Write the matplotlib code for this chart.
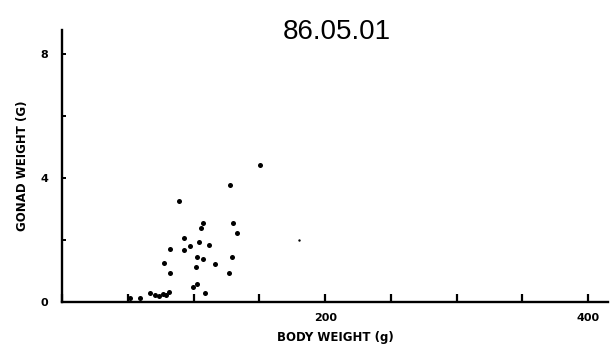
import matplotlib
matplotlib.use("Agg")
import matplotlib.pyplot as plt

# Data (body weight g, gonad weight g)
body_weight = [150.6, 127.8, 89.2, 107.5, 106.0, 130.0, 132.8, 92.8, 104.4, 111.8,
               97.1, 82.4, 92.8, 102.7, 107.0, 129.0, 77.3, 116.0, 101.7, 81.9,
               127.0, 102.9, 99.8, 108.5,
               59.0, 67.0, 70.5, 73.5, 76.5, 79.0, 81.0, 52.0]
gonad_weight = [4.42, 3.76, 3.26, 2.53, 2.37, 2.54, 2.22, 2.05, 1.93, 1.82,
                1.81, 1.71, 1.67, 1.45, 1.38, 1.45, 1.24, 1.22, 1.11, 0.93,
                0.94, 0.56, 0.48, 0.27,
                0.12, 0.28, 0.22, 0.18, 0.25, 0.22, 0.30, 0.12]
faint_x = [179.8]
faint_y = [1.99]

x_ticks = [0, 50, 100, 150, 200, 250, 300, 350, 400]
x_labels = ["", "", "", "", "200", "", "", "", "400"]
y_ticks = [0, 2, 4, 6, 8]
y_labels = ["0", "", "4", "", "8"]

fig = plt.figure(figsize=(6.12, 3.54), dpi=100)
ax = fig.add_axes([0.1013, 0.1477, 0.8922, 0.7676])
ax.set_xlim(0, 415)
ax.set_ylim(0, 8.76)

ax.scatter(body_weight, gonad_weight, s=13, color="black", linewidths=0, zorder=3)
ax.scatter(faint_x, faint_y, s=3, color="black", linewidths=0, zorder=3)

for s in ["top", "right"]:
    ax.spines[s].set_visible(False)
for s in ["left", "bottom"]:
    ax.spines[s].set_linewidth(1.7)
    ax.spines[s].set_color("black")

ax.set_xticks(x_ticks)
ax.set_xticklabels(x_labels, fontsize=8, fontweight="bold")
ax.set_yticks(y_ticks)
ax.set_yticklabels(y_labels, fontsize=8, fontweight="bold")
ax.tick_params(axis="x", direction="in", length=6, width=1.6, pad=8)
ax.tick_params(axis="y", direction="in", length=3, width=1.4, pad=10)

ax.set_xlabel("BODY WEIGHT (g)", fontsize=8.5, fontweight="bold", labelpad=6)
ax.set_ylabel("GONAD WEIGHT (G)", fontsize=8.5, fontweight="bold", labelpad=8)

fig.text(0.551, 0.91, "86.05.01", fontsize=20, ha="center", va="center",
         family="Liberation Sans")

fig.savefig("out.png", dpi=100)
